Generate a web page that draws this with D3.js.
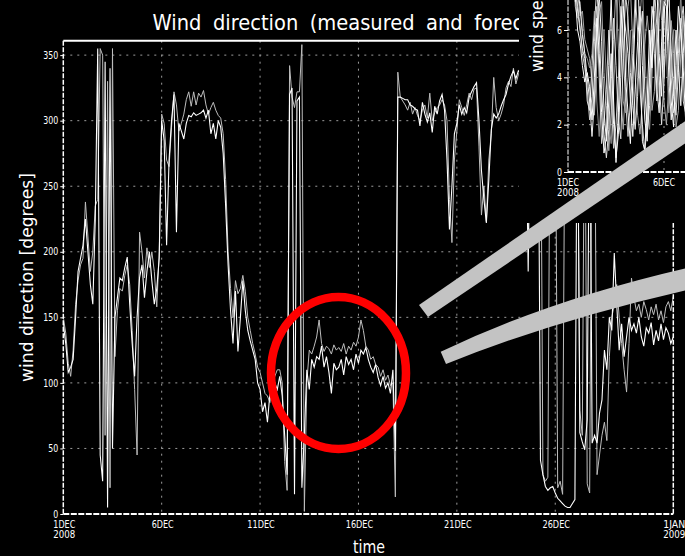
<!DOCTYPE html>
<html>
<head>
<meta charset="utf-8">
<script src="https://cdn.jsdelivr.net/npm/d3@7"></script>
<style>
  html, body { margin: 0; padding: 0; background: #000; }
  svg { display: block; }
</style>
</head>
<body>
<svg id="chart" width="685" height="556"></svg>
<script>
// Wind direction at a site, measured vs. forecast, 3-hourly from 1 Dec 2008 00 UTC to 1 Jan 2009 00 UTC.
const stepHours = 3;

// measured direction [degrees], 8 values per day
const directionMeasured = [
  145, 130, 108, 112, 118, 150, 185, 195,
  205, 225, 200, 175, 160, 225, 355, 45,
  25, 345, 5, 340, 50, 150, 165, 180,
  178, 188, 196, 160, 130, 105, 150, 180,
  190, 165, 185, 200, 178, 160, 172, 195,
  300, 285, 205, 270, 300, 320, 215, 298,
  292, 286, 298, 304, 303, 306, 304, 305,
  306, 308, 302, 308, 290, 298, 286, 300,
  295, 275, 235, 190, 155, 130, 170, 124,
  150, 178, 155, 140, 132, 125, 118, 100,
  95, 78, 85, 70, 92, 88, 100, 95,
  105, 90, 60, 30, 320, 325, 15, 315,
  318, 20, 60, 110, 95, 118, 112, 120,
  118, 128, 112, 120, 108, 92, 115, 110,
  112, 118, 106, 120, 114, 118, 110, 122,
  115, 125, 122, 127, 118, 112, 108, 114,
  104, 98, 105, 96, 100, 92, 110, 48,
  318, 318, 317, 316, 316, 312, 311, 309,
  308, 296, 314, 305, 299, 306, 291, 311,
  305, 315, 320, 308, 270, 217, 250, 290,
  298, 312, 305, 310, 306, 318, 322, 326,
  329, 300, 262, 240, 222, 255, 293, 305,
  302, 305, 311, 316, 320, 328, 334, 338,
  332, 338, 336, 334, 330, 185, 335, 345,
  350, 352, 41, 30, 21, 18, 20, 21,
  16, 12, 10, 8, 6, 5, 5, 8,
  11, 355, 62, 55, 49, 72, 350, 54,
  60, 54, 77, 87, 125, 110, 150, 140,
  199, 160, 125, 145, 120, 135, 150, 140,
  145, 138, 150, 135, 128, 142, 138, 146,
  129, 140, 132, 145, 133, 142, 138, 130, 135
];

// forecast direction [degrees], 8 values per day
const directionForecast = [
  150, 138, 115, 105, 125, 160, 178, 190,
  195, 238, 212, 185, 200, 235, 240, 355,
  350, 60, 330, 20, 355, 120, 155, 172,
  170, 182, 190, 175, 140, 95, 45, 215,
  200, 180, 203, 188, 200, 185, 158, 200,
  305, 298, 270, 265, 295, 322, 312, 292,
  298, 305, 316, 322, 311, 322, 312, 321,
  318, 323, 312, 305, 310, 314, 308, 304,
  302, 290, 255, 200, 172, 150, 178, 168,
  172, 182, 170, 150, 140, 130, 122, 112,
  108, 100, 92, 90, 85, 98, 105, 110,
  110, 100, 40, 18, 342, 318, 310, 322,
  322, 358, 2, 100, 125, 122, 128, 135,
  148, 130, 124, 128, 126, 122, 129, 125,
  127, 124, 130, 122, 128, 125, 131, 128,
  135, 148, 140, 128, 125, 118, 120, 114,
  112, 105, 110, 102, 106, 98, 100, 13,
  337, 318, 315, 312, 308, 314, 305, 310,
  304, 300, 308, 312, 302, 321, 300, 306,
  310, 312, 316, 312, 300, 240, 207, 270,
  292, 316, 310, 304, 312, 321, 316, 324,
  325, 280, 228, 250, 223, 270, 290, 333,
  310, 300, 305, 312, 325, 330, 326, 340,
  328, 335, 340, 338, 342, 336, 340, 348,
  345, 350, 355, 30, 25, 28, 350, 352,
  352, 20, 25, 15, 340, 350, 355, 345,
  345, 340, 79, 60, 350, 23, 16, 350,
  340, 30, 45, 60, 70, 56, 120, 150,
  160, 175, 150, 130, 110, 93, 130, 180,
  165, 155, 160, 150, 162, 156, 148, 158,
  152, 160, 148, 155, 146, 158, 162, 155, 166
];

// wind speed [m/s] runs for the small panel, 3-hourly from 1 Dec 03 UTC
const speedRun1 = [
  9, 8.5, 7.5, 6, 5.5, 4.5, 3.8, 4.2,
  3.6, 2.2, 4, 6.5, 5, 2.5, 0.8, 1.5,
  4.5, 7.5, 3, 0.4, 2.5, 6, 8, 4,
  2.5, 1.2, 3.8, 6.5, 9, 5, 1.3, 0.9,
  3, 6, 4.4, 7.5, 8, 5, 3.2, 6.5,
  8, 5.5, 3, 1.9, 4.5, 7, 6, 4.4,
  2.2, 4
];
const speedRun2 = [
  10, 9, 8, 7, 6.2, 5, 4.4, 3.5,
  2.2, 3.2, 5.5, 7, 4, 1.2, 2, 3.5,
  6, 3, 1, 2, 4, 7, 5, 3,
  1.5, 3, 5, 7.5, 6, 3.5, 2, 0.85,
  2, 4.2, 6, 5, 3, 6.5, 7.8, 4,
  6, 8, 4, 2.5, 3, 5, 6.5, 3,
  2.5, 5
];
const speedRun3 = [
  8, 9.5, 7, 6.5, 7.2, 6, 5, 4.8,
  4.4, 5, 6.8, 3, 1.5, 3.5, 6, 4,
  2, 1.2, 3.5, 5.5, 8, 6, 3, 2.5,
  4, 6, 3.9, 2, 4, 6.5, 8, 5,
  3, 1.8, 4, 6.8, 5.5, 3, 5, 7,
  5, 2.5, 4, 6, 3.5, 5.5, 7.5, 5,
  3.5, 2.5
];
const speedRun4 = [
  9.5, 8, 8.5, 7.8, 7, 5.8, 5, 4,
  3, 1.5, 3, 6, 7.5, 5.5, 2.6, 1.3,
  3, 5, 2, 0.6, 1.6, 4, 7, 6,
  5, 3, 1.5, 3.5, 5.5, 7, 4.5, 2.2,
  1.3, 4, 7, 6, 3.5, 2.5, 5.5, 7.2,
  7, 4, 2.2, 3.5, 6, 4.5, 2.8, 5,
  6.5, 3
];
const speedRun5 = [
  8.8, 9.2, 8, 6.8, 6, 5.2, 4.8, 3,
  2.6, 4.5, 6.2, 7.8, 6, 3.5, 1.6, 0.6,
  1.8, 4.2, 6.5, 4.5, 2.2, 1.4, 4.8, 7.5,
  6.5, 4.2, 2.8, 1.8, 3.2, 5.8, 6.8, 3.5,
  1.6, 2.8, 5, 7.8, 6.2, 4, 2, 3.8,
  6.8, 7.6, 5.2, 3.2, 2.4, 4.2, 6.2, 7,
  5.5, 4.4
];
const speedRun6 = [
  9.6, 8.2, 7.2, 7.6, 6.6, 6.8, 5.6, 5.2,
  4.8, 3.8, 2.4, 4.6, 6.8, 7.2, 4.2, 2.8,
  0.9, 2.6, 5.6, 7.8, 5.2, 3.2, 1.8, 3.6,
  7, 7.8, 5.4, 4, 2.4, 1.6, 3, 5.4,
  6.6, 5.4, 2.6, 3.4, 5.8, 7.6, 6.4, 3,
  2, 3.6, 6.4, 5, 1.9, 2.6, 5, 6.6,
  4.2, 2.2
];

const directionTicks = [0, 50, 100, 150, 200, 250, 300, 350];
const dateTicks = ["2008-12-01", "2008-12-06", "2008-12-11", "2008-12-16", "2008-12-21", "2008-12-26", "2009-01-01"];
const dateTickLabels = [["1DEC", "2008"], ["6DEC"], ["11DEC"], ["16DEC"], ["21DEC"], ["26DEC"], ["1JAN", "2009"]];
const speedTicks = [0, 2, 4, 6];
const speedDateTicks = ["2008-12-01", "2008-12-06"];
const speedDateTickLabels = [["1DEC", "2008"], ["6DEC"]];

const FONT = "'DejaVu Sans', 'Liberation Sans', sans-serif";
const W = 685, H = 556;
const plot = { left: 63.3, right: 673.3, top: 40.7, bottom: 514 };
const t0 = Date.UTC(2008, 11, 1);
const timeAt = i => new Date(t0 + i * stepHours * 3600e3);
const parseDay = s => new Date(s + "T00:00:00Z");

const svg = d3.select("#chart");
svg.append("rect").attr("width", W).attr("height", H).attr("fill", "#000");

const x = d3.scaleUtc()
  .domain([parseDay(dateTicks[0]), parseDay(dateTicks[dateTicks.length - 1])])
  .range([plot.left, plot.right]);
const y = d3.scaleLinear().domain([0, 361]).range([plot.bottom, plot.top]);

// dotted grid
const grid = svg.append("g")
  .attr("stroke", "#9c9c9c").attr("stroke-width", 1).attr("stroke-dasharray", "2,5");
grid.selectAll("line.gh").data(directionTicks.slice(1)).join("line").attr("class", "gh")
  .attr("x1", plot.left).attr("x2", plot.right)
  .attr("y1", d => y(d)).attr("y2", d => y(d));
grid.selectAll("line.gv").data(dateTicks.slice(1, -1)).join("line").attr("class", "gv")
  .attr("x1", d => x(parseDay(d))).attr("x2", d => x(parseDay(d)))
  .attr("y1", plot.top).attr("y2", plot.bottom);

// direction traces
svg.append("clipPath").attr("id", "plotClip").append("rect")
  .attr("x", plot.left).attr("y", plot.top - 2)
  .attr("width", plot.right - plot.left).attr("height", plot.bottom - plot.top + 2);
const dirLine = d3.line().x((d, i) => x(timeAt(i))).y(d => y(d));
const traces = svg.append("g").attr("clip-path", "url(#plotClip)").attr("fill", "none");
traces.append("path").datum(directionForecast).attr("d", dirLine)
  .attr("stroke", "#bdbdbd").attr("stroke-width", 1);
traces.append("path").datum(directionMeasured).attr("d", dirLine)
  .attr("stroke", "#ffffff").attr("stroke-width", 1.1);

// frame
const frame = svg.append("g").attr("stroke", "#fff").attr("fill", "none");
frame.append("line").attr("x1", plot.left).attr("x2", plot.right)
  .attr("y1", plot.top).attr("y2", plot.top).attr("stroke-width", 2);
frame.append("line").attr("x1", plot.left).attr("x2", plot.left)
  .attr("y1", plot.top).attr("y2", plot.bottom).attr("stroke-width", 1.5).attr("stroke-dasharray", "5,1.5");
frame.append("line").attr("x1", plot.right).attr("x2", plot.right)
  .attr("y1", plot.top).attr("y2", plot.bottom).attr("stroke-width", 1.5).attr("stroke-dasharray", "5,1.5");
frame.append("line").attr("x1", plot.left).attr("x2", plot.right)
  .attr("y1", plot.bottom).attr("y2", plot.bottom).attr("stroke-width", 2).attr("stroke-dasharray", "6,1.5");

// y axis
const gy = svg.append("g").attr("transform", `translate(${plot.left},0)`)
  .call(d3.axisLeft(y).tickValues(directionTicks).tickSize(3).tickPadding(2).tickFormat(d => String(d)));
gy.select(".domain").remove();
gy.selectAll("line").attr("stroke", "#fff");
gy.selectAll("text").attr("fill", "#fff").attr("font-family", FONT).attr("font-size", 10)
  .attr("textLength", d => String(d).length * 5).attr("lengthAdjust", "spacingAndGlyphs");

// x axis labels
const gx = svg.append("g").attr("fill", "#fff").attr("font-family", FONT).attr("font-size", 10)
  .attr("text-anchor", "middle");
dateTicks.forEach((d, k) => {
  dateTickLabels[k].forEach((s, j) => {
    gx.append("text").attr("x", x(parseDay(d)) + 1).attr("y", 527.5 + j * 10.5)
      .attr("textLength", s.length * 5.5).attr("lengthAdjust", "spacingAndGlyphs").text(s);
  });
});

// titles
svg.append("text").attr("x", 152.5).attr("y", 29.5).attr("fill", "#fff")
  .attr("font-family", FONT).attr("font-size", 22).attr("word-spacing", 6)
  .attr("textLength", 408).attr("lengthAdjust", "spacingAndGlyphs")
  .text("Wind direction (measured and forecast)");
svg.append("text").attr("transform", "translate(33,382) rotate(-90)").attr("fill", "#fff")
  .attr("font-family", FONT).attr("font-size", 18)
  .attr("textLength", 209).attr("lengthAdjust", "spacingAndGlyphs")
  .text("wind direction [degrees]");
svg.append("text").attr("x", 353).attr("y", 553).attr("fill", "#fff")
  .attr("font-family", FONT).attr("font-size", 18)
  .attr("textLength", 32).attr("lengthAdjust", "spacingAndGlyphs")
  .text("time");

// ---- wind speed panel (top right) ----
const inset = svg.append("g");
inset.append("rect").attr("x", 519).attr("y", 0).attr("width", W - 519).attr("height", 223).attr("fill", "#000");
const xs = d3.scaleUtc().domain([parseDay(speedDateTicks[0]), parseDay(speedDateTicks[1])]).range([568, 664]);
const ys = d3.scaleLinear().domain([0, 6]).range([172, 30]);

const sgrid = inset.append("g").attr("stroke", "#9c9c9c").attr("stroke-dasharray", "2,5");
sgrid.selectAll("line.sh").data(speedTicks.slice(1)).join("line").attr("class", "sh")
  .attr("x1", 568).attr("x2", W).attr("y1", d => ys(d)).attr("y2", d => ys(d));
sgrid.append("line").attr("x1", xs(parseDay(speedDateTicks[1]))).attr("x2", xs(parseDay(speedDateTicks[1])))
  .attr("y1", 0).attr("y2", 172);

svg.append("clipPath").attr("id", "insetClip").append("rect")
  .attr("x", 568).attr("y", 0).attr("width", W - 568).attr("height", 172);
const speedLine = d3.line().x((d, i) => xs(timeAt(i + 1))).y(d => ys(d));
const sTraces = inset.append("g").attr("clip-path", "url(#insetClip)").attr("fill", "none");
[[speedRun3, "#8c8c8c"], [speedRun6, "#a8a8a8"], [speedRun2, "#cfcfcf"], [speedRun5, "#e0e0e0"],
 [speedRun4, "#f2f2f2"], [speedRun1, "#ffffff"]].forEach(([run, c]) => {
  sTraces.append("path").datum(run).attr("d", speedLine).attr("stroke", c).attr("stroke-width", 1);
});

inset.append("line").attr("x1", 568).attr("x2", 568).attr("y1", 0).attr("y2", 172)
  .attr("stroke", "#fff").attr("stroke-width", 1).attr("stroke-dasharray", "5,1.5");
inset.append("line").attr("x1", 568).attr("x2", W).attr("y1", 172).attr("y2", 172)
  .attr("stroke", "#fff").attr("stroke-width", 2).attr("stroke-dasharray", "6,1.5");

const gys = inset.append("g").attr("transform", "translate(568,0)")
  .call(d3.axisLeft(ys).tickValues(speedTicks).tickSize(4).tickPadding(2).tickFormat(d => String(d)));
gys.select(".domain").remove();
gys.selectAll("line").attr("stroke", "#fff");
gys.selectAll("text").attr("fill", "#fff").attr("font-family", FONT).attr("font-size", 10)
  .attr("textLength", 5).attr("lengthAdjust", "spacingAndGlyphs");

const gxs = inset.append("g").attr("fill", "#fff").attr("font-family", FONT).attr("font-size", 10)
  .attr("text-anchor", "middle");
speedDateTicks.forEach((d, k) => {
  speedDateTickLabels[k].forEach((s, j) => {
    gxs.append("text").attr("x", xs(parseDay(d))).attr("y", 185.5 + j * 10.5)
      .attr("textLength", s.length * 5.5).attr("lengthAdjust", "spacingAndGlyphs").text(s);
  });
});
inset.append("text").attr("transform", "translate(543,72) rotate(-90)").attr("fill", "#fff")
  .attr("font-family", FONT).attr("font-size", 18)
  .attr("textLength", 139).attr("lengthAdjust", "spacingAndGlyphs")
  .text("wind speed [m/s]");

// ---- highlight marks ----
svg.append("ellipse").attr("cx", 338.5).attr("cy", 373).attr("rx", 67.5).attr("ry", 76)
  .attr("fill", "none").attr("stroke", "#ff0000").attr("stroke-width", 8.5);

const bands = svg.append("g").attr("fill", "#c3c3c3");
bands.append("path").attr("d", "M419,305 L428,317 L700,133.4 L700,111 Z");
bands.append("path").attr("d", "M440.7,351.7 L446,364 Q560,318 700,287 L700,265 Q555,297 440.7,351.7 Z");
</script>
</body>
</html>
